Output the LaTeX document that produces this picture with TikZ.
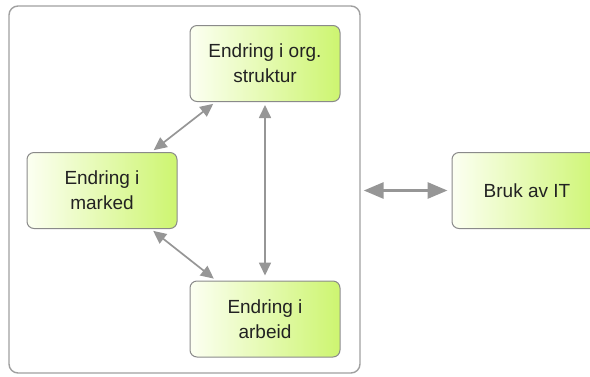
\documentclass[tikz,border=0pt]{standalone}
\usepackage{fontspec}
\setmainfont{Liberation Sans}
\usetikzlibrary{arrows.meta}

\definecolor{boxleft}{RGB}{252,255,242}
\definecolor{boxright}{RGB}{205,245,112}
\definecolor{boxline}{RGB}{138,138,138}
\definecolor{linkgray}{RGB}{150,150,150}
\definecolor{framegray}{RGB}{160,160,160}
\definecolor{labeltext}{RGB}{34,34,34}

\tikzset{
  topic/.style={
    draw=boxline, line width=1pt, rounded corners=7pt,
    left color=boxleft, right color=boxright,
    minimum width=150pt, minimum height=76pt, inner sep=0pt,
    align=center, text=labeltext,
    font=\fontsize{19}{25}\selectfont
  },
  groupframe/.style={
    draw=framegray, line width=1.4pt, rounded corners=9pt,
    minimum width=351pt, minimum height=367pt, inner sep=0pt
  },
  link/.style={
    draw=linkgray, line width=1.7pt,
    {Triangle[length=13pt,width=12pt]}-{Triangle[length=13pt,width=12pt]}
  },
  biglink/.style={
    draw=linkgray, line width=3pt,
    {Triangle[length=20pt,width=16pt]}-{Triangle[length=20pt,width=16pt]}
  }
}

\begin{document}
\begin{tikzpicture}[x=1pt,y=-1pt]
  \useasboundingbox (0,0) rectangle (590,376);
  \clip (0,0) rectangle (590,376);

  % enclosing group
  \node[groupframe] (frame) at (184.5,189.5) {};

  % the three changes inside the group
  \node[topic] (org) at (265,63.5) {Endring i org.\\struktur};
  \node[topic] (marked) at (102,190.5) {Endring i\\marked};
  \node[topic] (arbeid) at (265,319) {Endring i\\arbeid};

  % outside the group
  \node[topic] (bruk) at (527,190.5) {Bruk av IT};

  % links between the changes
  \draw[link, shorten <=3pt, shorten >=3pt] (marked) -- (org);
  \draw[link, shorten <=3pt, shorten >=3pt] (marked) -- (arbeid);
  \draw[link, shorten <=3pt, shorten >=5pt] (org) -- (arbeid);

  % link between the group and IT use
  \draw[biglink, shorten <=3pt, shorten >=4pt] (frame.east |- bruk.west) -- (bruk.west);
\end{tikzpicture}
\end{document}
